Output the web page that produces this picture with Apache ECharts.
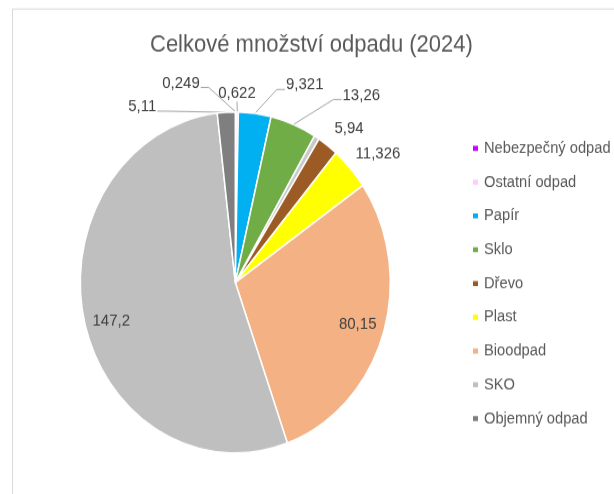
<!DOCTYPE html>
<html><head><meta charset="utf-8">
<script src="https://cdn.jsdelivr.net/npm/echarts@6/dist/echarts.min.js"></script>
<style>
html,body{margin:0;padding:0;background:#fff;overflow:hidden}
#wrap{width:614px;height:494px;overflow:hidden;position:relative}
#c{width:614px;height:449px;transform:scaleY(1.1);transform-origin:0 0}
</style></head><body><div id="wrap"><div id="c"></div></div>
<script>
// ---- data ----
const titleText = 'Celkové množství odpadu (2024)';
const categories = ['Nebezpečný odpad','Ostatní odpad','Papír','Sklo','','Dřevo','Plast','Bioodpad','SKO','Objemný odpad'];
const values = [0.249, 0.622, 9.321, 13.26, 1.5, 5.94, 11.326, 80.15, 147.2, 5.11];
const legendNames = ['Nebezpečný odpad','Ostatní odpad','Papír','Sklo','Dřevo','Plast','Bioodpad','SKO','Objemný odpad'];

// ---- styles / layout ----
const colors = ['#CC00FF','#FFCCFF','#00B0F0','#70AD47','#C9C9C9','#9C5B24','#FFFF00','#F4B183','#BFBFBF','#7F7F7F'];
const FONT = "'Liberation Sans', Arial, sans-serif";
// label centres (chart space) and leader-line attachment side
const labelSpots = {
  0: {x:181, y:75.5, side:'right'},
  1: {x:237, y:84.8, side:'bottom'},
  2: {x:304.7, y:77.3, side:'left'},
  3: {x:361.3, y:86.4, side:'left'},
  5: {x:349, y:116.6},
  6: {x:378, y:140},
  7: {x:357.7, y:294.5},
  8: {x:111.3, y:291.5},
  9: {x:142.3, y:97, side:'right'}
};
const noLine = [5, 6];
const insideIdx = [7, 8];

const chart = echarts.init(document.getElementById('c'));

const data = categories.map((name, i) => {
  const item = { name: name, value: values[i], itemStyle: { color: colors[i] } };
  if (name === '') {
    item.label = { show: false };
    item.labelLine = { show: false };
  } else if (insideIdx.includes(i)) {
    item.label = { position: 'inside' };
    item.labelLine = { show: false };
  } else if (noLine.includes(i)) {
    item.labelLine = { show: false };
  }
  return item;
});

chart.setOption({
  animation: false,
  backgroundColor: '#ffffff',
  graphic: [{
    type: 'rect', x: 12.5, y: 8.2,
    shape: { width: 700, height: 500 },
    style: { fill: 'none', stroke: '#D9D9D9', lineWidth: 1 },
    silent: true
  }],
  title: {
    text: titleText, left: 150, top: 30, padding: 0,
    textStyle: { fontFamily: FONT, fontSize: 22, fontWeight: 'normal', color: '#595959', lineHeight: 22 }
  },
  legend: {
    orient: 'vertical', left: 466, top: 122.4,
    data: legendNames, icon: 'rect', itemWidth: 7, itemHeight: 6.6, itemGap: 15.7,
    textStyle: { fontFamily: FONT, fontSize: 14.7, color: '#595959', lineHeight: 15 }
  },
  series: [{
    type: 'pie',
    center: [235.3, 256.8],
    radius: 155,
    startAngle: 90,
    clockwise: true,
    avoidLabelOverlap: false,
    itemStyle: { borderColor: '#ffffff', borderWidth: 1.5 },
    label: {
      show: true, position: 'outside',
      formatter: p => String(p.value).replace('.', ','),
      fontFamily: FONT, fontSize: 15, color: '#404040'
    },
    labelLine: { show: true, length: 10, length2: 8, lineStyle: { color: '#A6A6A6', width: 1 } },
    emphasis: { disabled: true },
    labelLayout: function (p) {
      const s = labelSpots[p.dataIndex];
      if (!s) return {};
      const out = { x: s.x, y: s.y, align: 'center', verticalAlign: 'middle' };
      if (s.side && p.labelLinePoints && p.labelLinePoints.length) {
        const a = p.labelLinePoints[0];
        const w = p.labelRect.width, h = p.labelRect.height;
        let end, elbow;
        if (s.side === 'right') {
          end = [s.x + w / 2 + 1, s.y + 4];
          elbow = [end[0] + 8, end[1]];
        } else if (s.side === 'left') {
          end = [s.x - w / 2 - 1, s.y + 4];
          elbow = [end[0] - 8, end[1]];
        } else {
          end = [s.x, s.y + h / 2];
          elbow = [(end[0] + a[0]) / 2, (end[1] + a[1]) / 2];
        }
        out.labelLinePoints = [a, elbow, end];
      }
      return out;
    },
    data: data
  }]
});
</script></body></html>
